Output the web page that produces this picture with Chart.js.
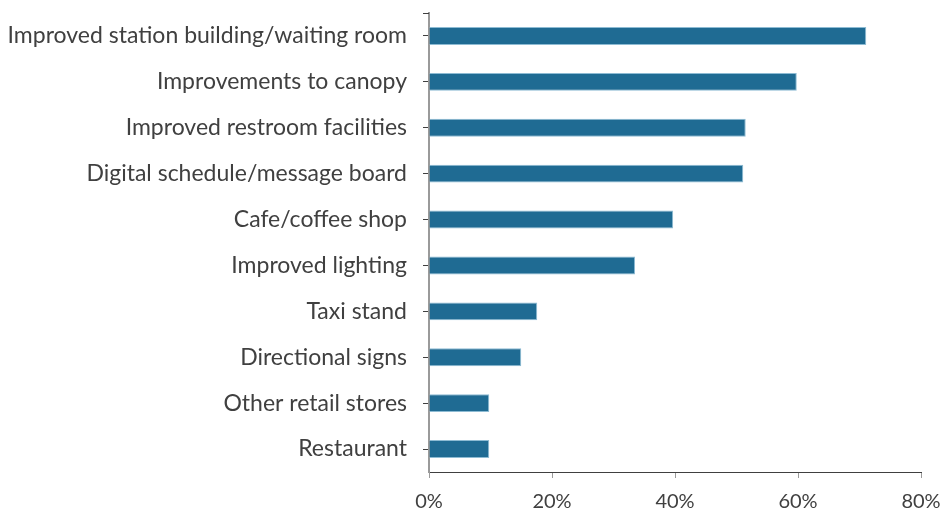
<!DOCTYPE html>
<html>
<head>
<meta charset="utf-8">
<script src="https://cdn.jsdelivr.net/npm/chart.js@4/dist/chart.umd.min.js"></script>
<style>
  html, body { margin: 0; padding: 0; background: #ffffff; }
  #wrap { width: 944px; height: 510px; position: relative; }
</style>
</head>
<body>
<div id="wrap"><canvas id="chart"></canvas></div>
<script>
// Station amenities respondents would like to see (share of responses)
const categories = [
  'Improved station building/waiting room',
  'Improvements to canopy',
  'Improved restroom facilities',
  'Digital schedule/message board',
  'Cafe/coffee shop',
  'Improved lighting',
  'Taxi stand',
  'Directional signs',
  'Other retail stores',
  'Restaurant'
];
const shares = [71.1, 59.8, 51.5, 51.1, 39.7, 33.5, 17.6, 15.0, 9.8, 9.8];
const axisTicks = [0, 20, 40, 60, 80];

const textColor = '#404040';
const fontFamily = 'Lato, "Open Sans", sans-serif';

// Small tick at the top end of the category axis
const topTick = {
  id: 'topTick',
  afterDraw(chart) {
    const y = chart.scales.y;
    const ctx = chart.ctx;
    ctx.save();
    ctx.strokeStyle = textColor;
    ctx.lineWidth = 1;
    ctx.beginPath();
    ctx.moveTo(y.right - 6, Math.round(y.top) + 0.5);
    ctx.lineTo(y.right, Math.round(y.top) + 0.5);
    ctx.stroke();
    ctx.restore();
  }
};

new Chart(document.getElementById('chart'), {
  type: 'bar',
  data: {
    labels: categories,
    datasets: [{
      data: shares,
      backgroundColor: '#1f6b93',
      borderColor: '#8dbbd3',
      borderWidth: 1,
      categoryPercentage: 1,
      barPercentage: 0.39
    }]
  },
  plugins: [topTick],
  options: {
    indexAxis: 'y',
    responsive: true,
    maintainAspectRatio: false,
    animation: false,
    layout: { padding: { top: 13, right: 23, left: 0, bottom: 0 } },
    plugins: { legend: { display: false }, tooltip: { enabled: false } },
    scales: {
      x: {
        min: 0,
        max: 80,
        afterBuildTicks(scale) {
          scale.ticks = axisTicks.map(v => ({ value: v }));
        },
        afterFit(scale) {
          scale.height = 38;
          scale.paddingLeft = 0;
          scale.paddingRight = 0;
        },
        border: { display: true, color: textColor, width: 1 },
        grid: { drawOnChartArea: false, tickLength: 6, color: '#9a9a9a' },
        ticks: {
          color: textColor,
          font: { family: fontFamily, size: 20 },
          padding: 12,
          maxRotation: 0,
          callback: v => v + '%'
        }
      },
      y: {
        afterFit(scale) {
          scale.width = 429;
          scale.paddingTop = 0;
          scale.paddingBottom = 0;
        },
        border: { display: true, color: '#9a9a9a', width: 2 },
        grid: { offset: false, drawOnChartArea: false, tickLength: 6, color: textColor },
        ticks: { color: textColor, font: { family: fontFamily, size: 23 }, padding: 16, autoSkip: false }
      }
    }
  }
});
</script>
</body>
</html>
